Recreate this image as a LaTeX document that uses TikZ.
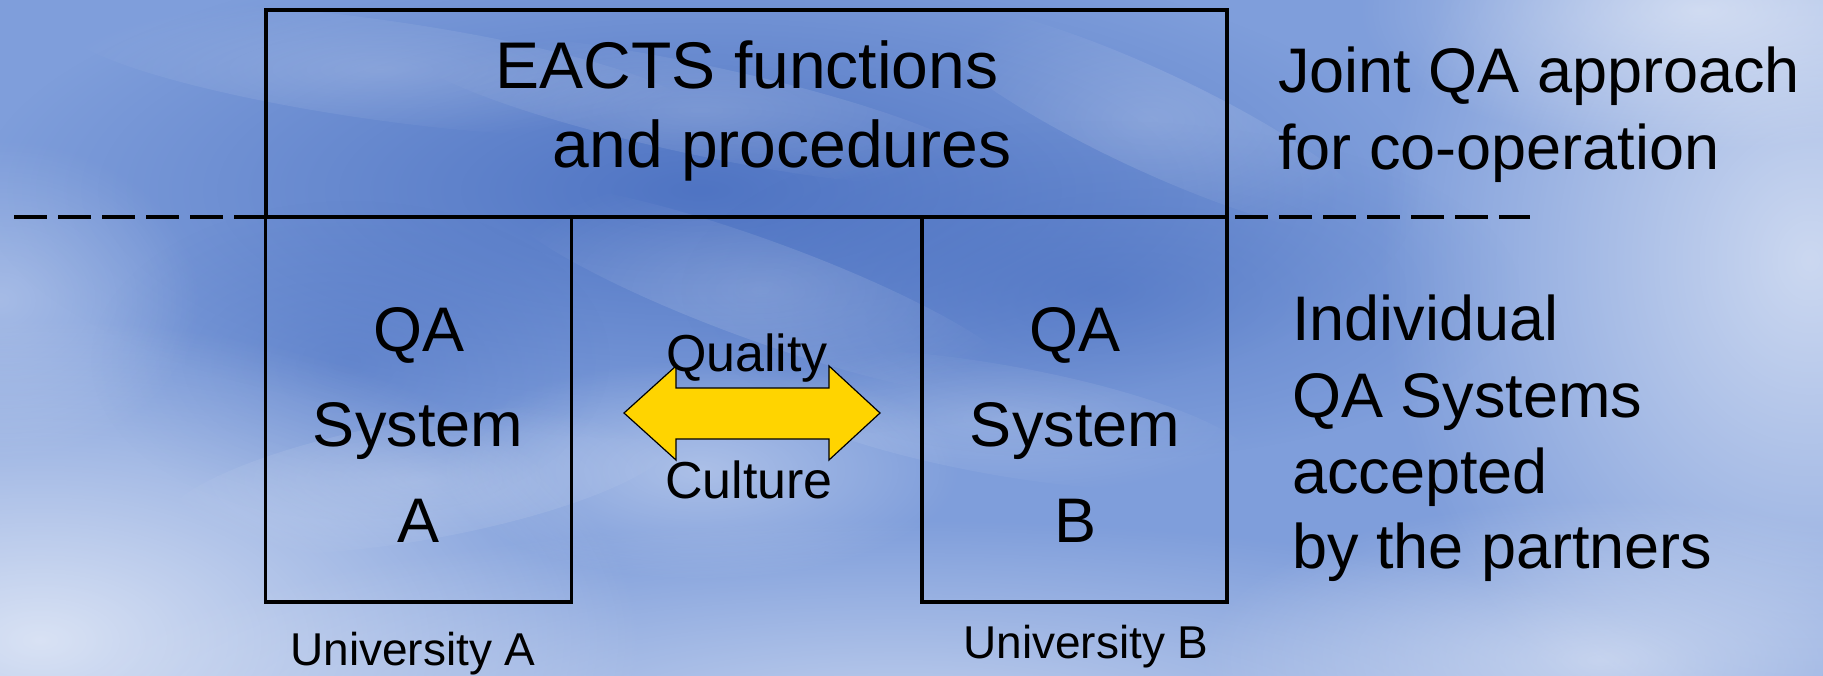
\documentclass[tikz,border=0pt]{standalone}
\usepackage{fontspec}
\setmainfont{Liberation Sans}
\usetikzlibrary{fadings}
\tikzfading[name=softfade, inner color=transparent!0, outer color=transparent!100]
\definecolor{skybase}{HTML}{7F9EDB}
\definecolor{skydark}{HTML}{3F66BB}
\definecolor{arrowyellow}{HTML}{FFD400}
\tikzset{
  boxline/.style={draw=black, line width=3.5pt, inner sep=0pt, outer sep=0pt},
  bigtxt/.style={font=\fontsize{63}{70}\selectfont, inner sep=0pt, anchor=base},
  toptxt/.style={font=\fontsize{66}{72}\selectfont, inner sep=0pt, anchor=base},
  midtxt/.style={font=\fontsize{52}{60}\selectfont, inner sep=0pt, anchor=base},
  smalltxt/.style={font=\fontsize{46}{52}\selectfont, inner sep=0pt, anchor=base},
  dashline/.style={line width=3.5pt, dash pattern=on 32.5pt off 11.5pt},
  cloud/.style={fill=white, path fading=softfade},
  darkcloud/.style={fill=skydark, path fading=softfade}
}
\begin{document}
\begin{tikzpicture}[x=1pt, y=-1pt]
\useasboundingbox (0,0) rectangle (1823,676);
% sky background
\fill[skybase] (0,0) rectangle (1823,676);
\fill[darkcloud, opacity=0.75] (700,190) ellipse [x radius=720pt, y radius=250pt];
\fill[darkcloud, opacity=0.45] (1100,290) ellipse [x radius=420pt, y radius=170pt];
\fill[darkcloud, opacity=0.35] (350,360) ellipse [x radius=260pt, y radius=160pt];
\fill[cloud, opacity=0.7] (40,640) ellipse [x radius=600pt, y radius=320pt];
\fill[cloud, opacity=0.5] (900,720) ellipse [x radius=850pt, y radius=200pt];
\fill[cloud, opacity=0.35] (700,470) ellipse [x radius=260pt, y radius=110pt];
\fill[cloud, opacity=0.6] (1810,260) ellipse [x radius=430pt, y radius=520pt];
\fill[cloud, opacity=0.5] (1700,10) ellipse [x radius=340pt, y radius=140pt];
\fill[cloud, opacity=0.5] (1600,660) ellipse [x radius=400pt, y radius=160pt];
\fill[cloud, opacity=0.3] (0,300) ellipse [x radius=200pt, y radius=160pt];
\fill[cloud, opacity=0.18, rotate around={-8:(380,70)}] (380,70) ellipse [x radius=320pt, y radius=50pt];
\fill[cloud, opacity=0.18, rotate around={-20:(760,290)}] (760,290) ellipse [x radius=280pt, y radius=50pt];
\fill[cloud, opacity=0.22, rotate around={10:(420,480)}] (420,480) ellipse [x radius=260pt, y radius=60pt];
\fill[cloud, opacity=0.18, rotate around={-12:(700,110)}] (700,110) ellipse [x radius=300pt, y radius=45pt];
\fill[cloud, opacity=0.18, rotate around={-25:(1150,120)}] (1150,120) ellipse [x radius=250pt, y radius=50pt];
\fill[cloud, opacity=0.18, rotate around={-10:(1000,420)}] (1000,420) ellipse [x radius=260pt, y radius=55pt];

% boxes
\node[boxline, minimum width=961pt, minimum height=207pt] (top) at (746.5,113.5) {};
\node[boxline, minimum width=306pt, minimum height=385pt] (boxA) at (418.5,409.5) {};
\node[boxline, minimum width=305pt, minimum height=385pt] (boxB) at (1074.5,409.5) {};

% dashed divider
\coordinate (dl) at (14,217);
\coordinate (dr) at (1530,217);
\draw[dashline] (dl) -- (top.south west);
\coordinate (drs) at (1235,217);
\draw[dashline] (drs) -- (dr);

% double arrow
\filldraw[fill=arrowyellow, draw=black, line width=1.2pt, line join=miter]
  (624,413) -- (676,366) -- (676,388) -- (829,388) -- (829,366) -- (880,413)
  -- (829,460) -- (829,439) -- (676,439) -- (676,460) -- cycle;

% texts
\node[toptxt] (eacts1) at (747,89) {EACTS functions};
\node[toptxt] (eacts2) at (782,168) {and procedures};

\node[bigtxt, anchor=base west] (joint1) at (1278,93) {Joint QA approach};
\node[bigtxt, anchor=base west] (joint2) at (1278,170) {for co-operation};

\node[bigtxt] (qaA1) at (419,352) {QA};
\node[bigtxt] (qaA2) at (418,446) {System};
\node[bigtxt] (qaA3) at (419,542) {A};

\node[bigtxt] (qaB1) at (1075,352) {QA};
\node[bigtxt] (qaB2) at (1075,446) {System};
\node[bigtxt] (qaB3) at (1075,542) {B};

\node[midtxt] (quality) at (747,371) {Quality};
\node[midtxt] (culture) at (749,498) {Culture};

\node[bigtxt, anchor=base west] (ind1) at (1292,340) {Individual};
\node[bigtxt, anchor=base west] (ind2) at (1292,417) {QA Systems};
\node[bigtxt, anchor=base west] (ind3) at (1292,493) {accepted};
\node[bigtxt, anchor=base west] (ind4) at (1292,568) {by the partners};

\node[smalltxt] (univA) at (413,665) {University A};
\node[smalltxt] (univB) at (1086,658) {University B};
\end{tikzpicture}
\end{document}
